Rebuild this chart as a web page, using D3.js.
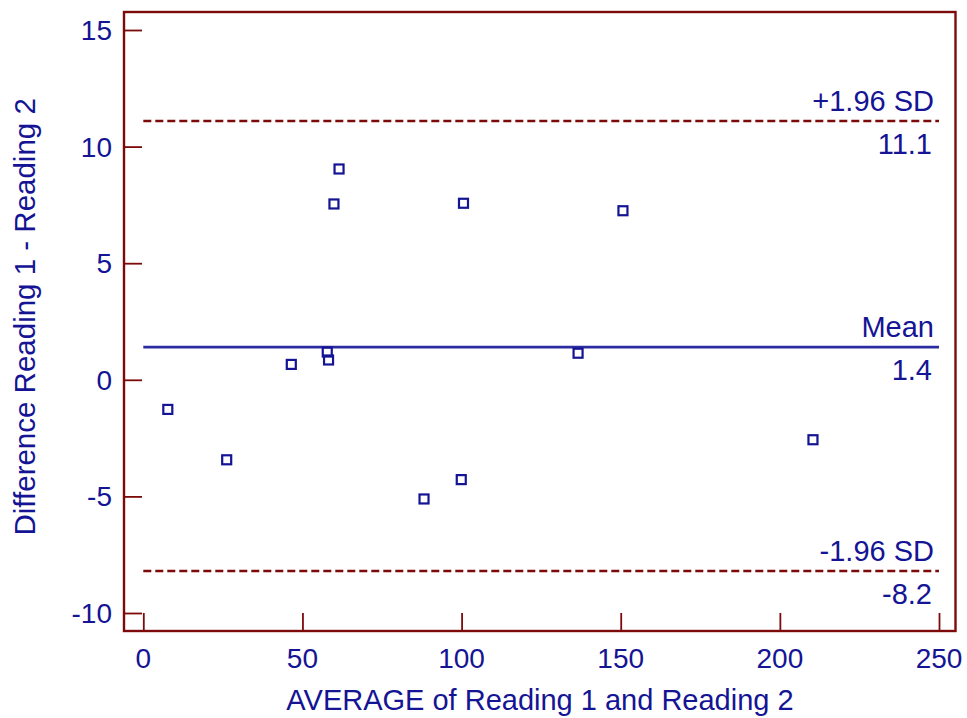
<!DOCTYPE html>
<html><head><meta charset="utf-8">
<script src="https://cdn.jsdelivr.net/npm/d3@7"></script>
<style>body{margin:0;background:#fff;} svg{display:block;font-family:"Liberation Sans",Arial,sans-serif;}</style>
</head><body>
<svg id="c" width="967" height="718"></svg>
<script>
const avgValues  = [7.7, 26.2, 46.5, 57.8, 58.2, 59.9, 61.5, 88.2, 99.9, 100.6, 136.6, 150.7, 210.4];
const diffValues = [-1.27, -3.43, 0.66, 1.19, 0.85, 7.54, 9.04, -5.11, -4.28, 7.57, 1.14, 7.25, -2.57];
const xTicks = [0, 50, 100, 150, 200, 250];
const yTicks = [-10, -5, 0, 5, 10, 15];
const refValues = [11.1, 1.4, -8.2];
const refNames  = ["+1.96 SD", "Mean", "-1.96 SD"];
const refLabels = ["11.1", "1.4", "-8.2"];
const xTitle = "AVERAGE of Reading 1 and Reading 2";
const yTitle = "Difference Reading 1 - Reading 2";

const navy = "#141494", frame = "#7d0a0a";
const svg = d3.select("#c");
const x = d3.scaleLinear().domain([0, 250]).range([143.3, 939]);
const y = d3.scaleLinear().domain([-10, 15]).range([613, 30]);
const L = 124, R = 955.5, T = 12, B = 631;

// frame
svg.append("rect").attr("x", L).attr("y", T).attr("width", R - L).attr("height", B - T)
  .attr("fill", "none").attr("stroke", frame).attr("stroke-width", 2.4);

// axes (inward ticks)
const yAxis = svg.append("g").attr("transform", `translate(${L},0)`)
  .call(d3.axisRight(y).tickValues(yTicks).tickSize(18).tickFormat(""));
const xAxis = svg.append("g").attr("transform", `translate(0,${B})`)
  .call(d3.axisTop(x).tickValues(xTicks).tickSize(18).tickFormat(""));
[yAxis, xAxis].forEach(g => {
  g.select(".domain").remove();
  g.selectAll(".tick line").attr("stroke", frame).attr("stroke-width", 1.8);
});
// tick labels
svg.append("g").selectAll("text").data(yTicks).join("text")
  .attr("x", 112).attr("y", d => y(d)).attr("dy", "0.36em")
  .attr("text-anchor", "end").attr("fill", navy).attr("font-size", 28).text(d => d);
svg.append("g").selectAll("text").data(xTicks).join("text")
  .attr("x", d => x(d)).attr("y", 668)
  .attr("text-anchor", "middle").attr("fill", navy).attr("font-size", 28).text(d => d);

// titles
svg.append("text").attr("x", 540).attr("y", 710).attr("text-anchor", "middle")
  .attr("fill", navy).attr("font-size", 29).text(xTitle);
svg.append("text").attr("transform", `translate(35,${y(2.7)}) rotate(-90)`).attr("text-anchor", "middle")
  .attr("fill", navy).attr("font-size", 29.5).text(yTitle);

// reference lines
refValues.forEach((v, i) => {
  const isMean = i === 1;
  svg.append("line").attr("x1", x(0)).attr("x2", x(250)).attr("y1", y(v)).attr("y2", y(v))
    .attr("stroke", isMean ? "#2c2ca0" : frame).attr("stroke-width", isMean ? 2.6 : 2.6)
    .attr("stroke-dasharray", isMean ? null : "8,4");
  svg.append("text").attr("x", 934).attr("y", y(v) - 10).attr("text-anchor", "end")
    .attr("fill", navy).attr("font-size", 29).text(refNames[i]);
  svg.append("text").attr("x", 932).attr("y", y(v) + 33).attr("text-anchor", "end")
    .attr("fill", navy).attr("font-size", 29).text(refLabels[i]);
});

// points
svg.append("g").selectAll("rect").data(avgValues.map((a, i) => [a, diffValues[i]])).join("rect")
  .attr("x", d => x(d[0]) - 4.5).attr("y", d => y(d[1]) - 4.5).attr("width", 9).attr("height", 9)
  .attr("fill", "none").attr("stroke", navy).attr("stroke-width", 2.2);
</script>
</body></html>
